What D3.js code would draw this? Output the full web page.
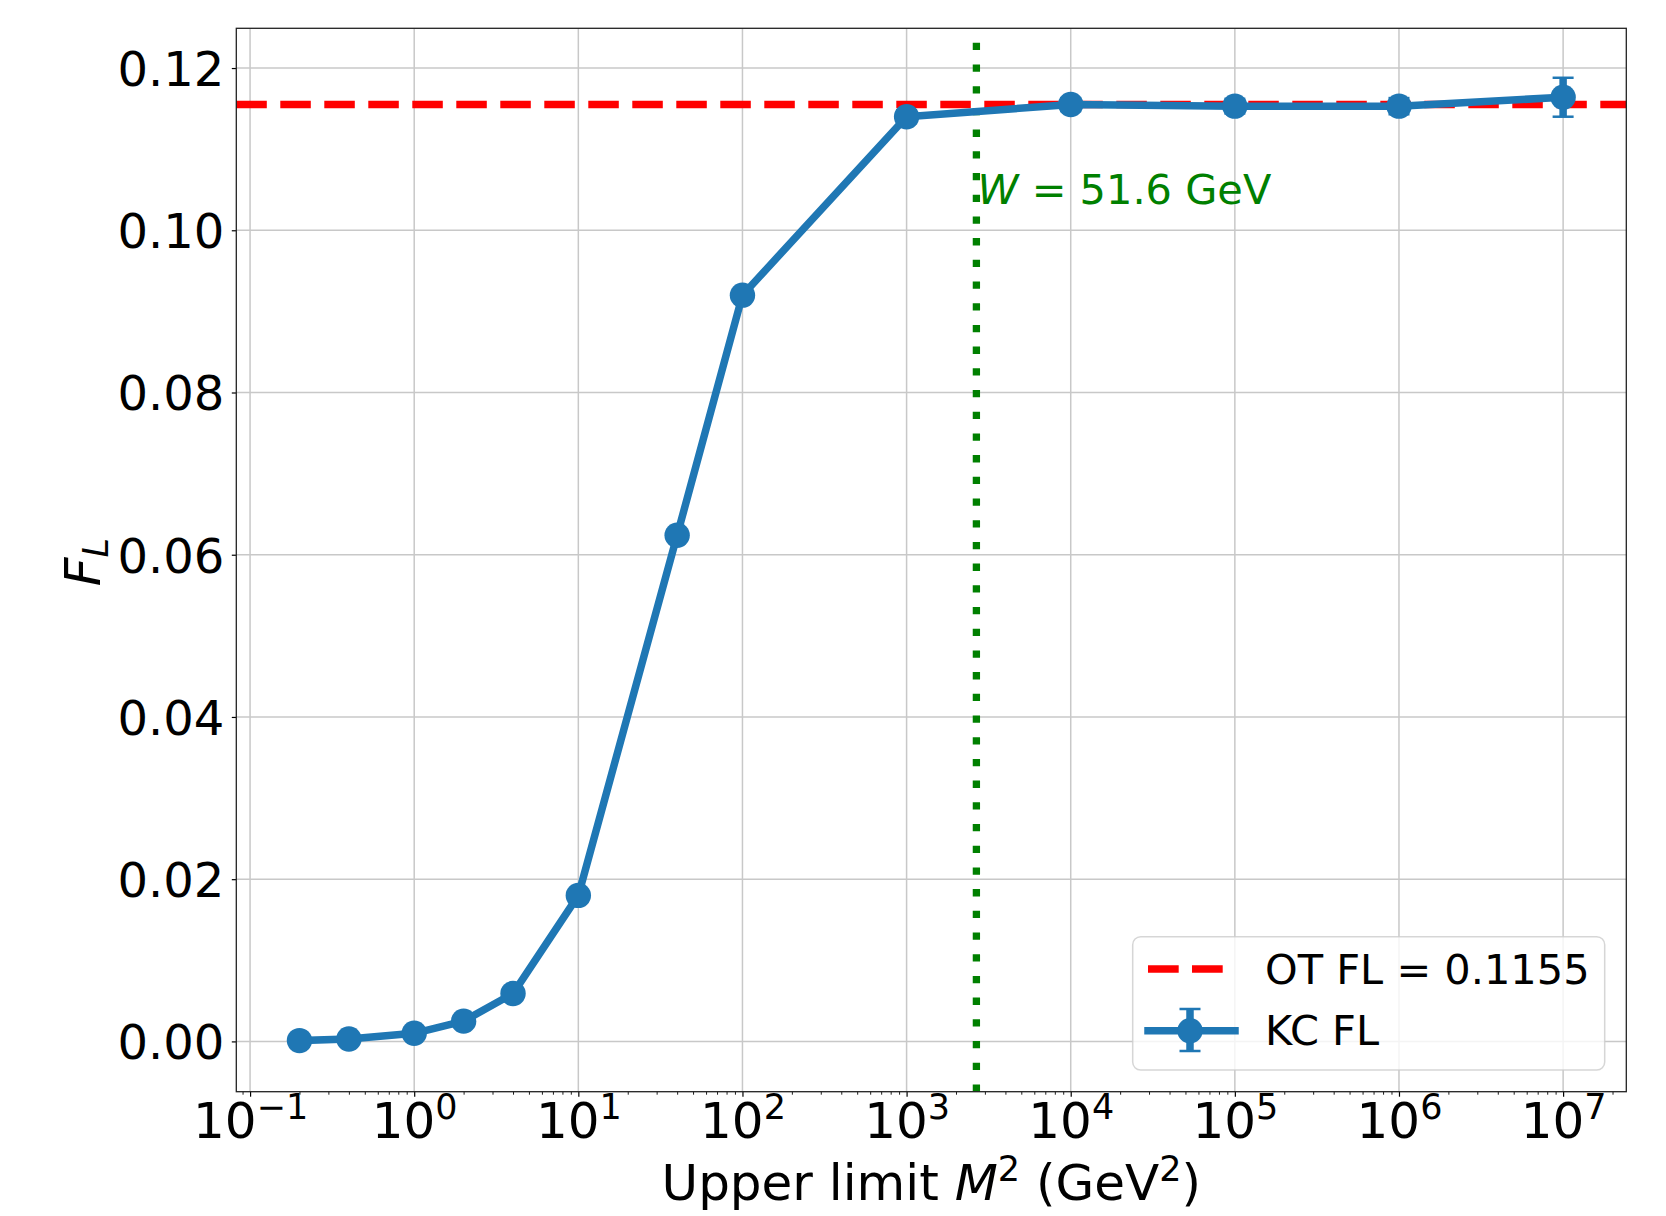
<!DOCTYPE html>
<html>
<head>
<meta charset="utf-8">
<script src="https://cdn.jsdelivr.net/npm/d3@7"></script>
<style>
body { margin: 0; background: #fff; }
svg text { font-family: "DejaVu Sans", sans-serif; fill: #000; }
</style>
</head>
<body>
<div id="chart"></div>
<script>
// data
var m2Limits = [0.2, 0.4, 1, 2, 4, 10, 40, 100, 1e3, 1e4, 1e5, 1e6, 1e7];
var kcFL = [0.0001, 0.0003, 0.0010, 0.0025, 0.0059, 0.0180, 0.0624, 0.0920, 0.1140, 0.1155, 0.1153, 0.1153, 0.1164];
var kcErr = [0.0001, 0.0001, 0.0002, 0.0002, 0.0003, 0.0004, 0.0006, 0.0006, 0.0008, 0.0008, 0.0009, 0.0010, 0.0024];
var otFL = 0.1155;
var wMass = 51.6;
var yTicks = [0, 0.02, 0.04, 0.06, 0.08, 0.10, 0.12];
var xTickExps = [-1, 0, 1, 2, 3, 4, 5, 6, 7];

var width = 1666,
    height = 1216;
var margin = {top: 28.3, right: 39.7, bottom: 124.3, left: 236.3};
var plotRight = width - margin.right,
    plotBottom = height - margin.bottom;

var blue = "#1f77b4";

var svg = d3.select("#chart").append("svg")
  .attr("width", width)
  .attr("height", height);

//scales
var x = d3.scaleLog()
  .domain([Math.pow(10, -1.0839), Math.pow(10, 7.3850)])
  .range([margin.left, plotRight]);
var y = d3.scaleLinear()
  .domain([-0.0062, 0.1249])
  .range([plotBottom, margin.top]);

var xMajor = xTickExps.map(function(e) { return Math.pow(10, e); });
var xMinor = [];
for (var e = -2; e <= 7; e++) {
  for (var k = 2; k < 10; k++) {
    var v = k * Math.pow(10, e);
    if (v > x.domain()[0] && v < x.domain()[1]) xMinor.push(v);
  }
}

//grid
var grid = svg.append("g").attr("class", "grid")
  .attr("stroke", "#c8c8c8")
  .attr("stroke-width", 1.5);
grid.selectAll(".gx").data(xMajor).enter().append("line")
  .attr("x1", function(d) { return x(d); })
  .attr("x2", function(d) { return x(d); })
  .attr("y1", margin.top)
  .attr("y2", plotBottom);
grid.selectAll(".gy").data(yTicks).enter().append("line")
  .attr("x1", margin.left)
  .attr("x2", plotRight)
  .attr("y1", function(d) { return y(d); })
  .attr("y2", function(d) { return y(d); });

//OT reference line
svg.append("line")
  .attr("x1", margin.left)
  .attr("x2", plotRight)
  .attr("y1", y(otFL))
  .attr("y2", y(otFL))
  .attr("stroke", "#ff0000")
  .attr("stroke-width", 7.5)
  .attr("stroke-dasharray", "30.5,13.5");

//W mass line, drawn bottom to top like matplotlib
var wx = x(wMass * wMass);
svg.append("line")
  .attr("x1", wx)
  .attr("x2", wx)
  .attr("y1", plotBottom)
  .attr("y2", margin.top)
  .attr("stroke", "#008000")
  .attr("stroke-width", 7.3)
  .attr("stroke-dasharray", "7.3,14.4");

var pts = m2Limits.map(function(m, i) {
  return {m2: m, fl: kcFL[i], err: kcErr[i]};
});

//error bars
var eb = svg.append("g").attr("stroke", blue);
eb.selectAll(".ebar").data(pts).enter().append("line")
  .attr("x1", function(d) { return x(d.m2); })
  .attr("x2", function(d) { return x(d.m2); })
  .attr("y1", function(d) { return y(d.fl - d.err); })
  .attr("y2", function(d) { return y(d.fl + d.err); })
  .attr("stroke-width", 7.5);
[-1, 1].forEach(function(s) {
  eb.selectAll(".cap" + s).data(pts).enter().append("line")
    .attr("x1", function(d) { return x(d.m2) - 10.5; })
    .attr("x2", function(d) { return x(d.m2) + 10.5; })
    .attr("y1", function(d) { return y(d.fl + s * d.err); })
    .attr("y2", function(d) { return y(d.fl + s * d.err); })
    .attr("stroke-width", 2.5);
});

//KC line + markers
var line = d3.line()
  .x(function(d) { return x(d.m2); })
  .y(function(d) { return y(d.fl); });
svg.append("path")
  .datum(pts)
  .attr("d", line)
  .attr("fill", "none")
  .attr("stroke", blue)
  .attr("stroke-width", 7.5)
  .attr("stroke-linejoin", "round")
  .attr("stroke-linecap", "square");
svg.selectAll(".pt").data(pts).enter().append("circle")
  .attr("cx", function(d) { return x(d.m2); })
  .attr("cy", function(d) { return y(d.fl); })
  .attr("r", 12.7)
  .attr("fill", blue);

//annotation
var ann = svg.append("text")
  .attr("x", wx + 1)
  .attr("y", y(0.1033))
  .attr("font-size", 41.5)
  .style("fill", "#008000");
ann.append("tspan").attr("font-style", "italic").text("W");
ann.append("tspan").text(" = 51.6 GeV");

//axes
var xAxis = svg.append("g")
  .attr("transform", "translate(0," + plotBottom + ")")
  .call(d3.axisBottom(x).tickValues(xMajor).tickSize(5).tickFormat(""));
svg.append("g")
  .attr("transform", "translate(0," + plotBottom + ")")
  .call(d3.axisBottom(x).tickValues(xMinor).tickSize(3).tickFormat(""))
  .selectAll("line").attr("stroke-width", 0.9);
xAxis.selectAll(".tick line").attr("stroke-width", 1.2);
xAxis.selectAll(".tick").each(function(d, i) {
  var t = d3.select(this).append("text")
    .attr("y", 46.6)
    .attr("text-anchor", "middle")
    .attr("font-size", 50)
    .style("fill", "#000");
  t.append("tspan").text("10");
  t.append("tspan")
    .attr("font-size", 35)
    .attr("dy", -19)
    .text(String(xTickExps[i]).replace("-", "\u2212"));
});

var yAxis = svg.append("g")
  .attr("transform", "translate(" + margin.left + ",0)")
  .call(d3.axisLeft(y).tickValues(yTicks).tickSize(4.5).tickPadding(7.5).tickFormat(d3.format(".2f")));
yAxis.selectAll(".tick line").attr("stroke-width", 1.2);
yAxis.selectAll(".tick text")
  .attr("font-size", 48)
  .attr("font-family", "DejaVu Sans")
  .attr("dy", "0.36em");

svg.selectAll(".domain").remove();

//spines
svg.append("rect")
  .attr("x", margin.left)
  .attr("y", margin.top)
  .attr("width", plotRight - margin.left)
  .attr("height", plotBottom - margin.top)
  .attr("fill", "none")
  .attr("stroke", "#222")
  .attr("stroke-width", 1.3);

//axis titles
var xt = svg.append("text")
  .attr("x", (margin.left + plotRight) / 2)
  .attr("y", 1200)
  .attr("text-anchor", "middle")
  .attr("font-size", 50);
xt.append("tspan").text("Upper limit ");
xt.append("tspan").attr("font-style", "italic").text("M");
xt.append("tspan").attr("font-size", 35).attr("dy", -19).text("2");
xt.append("tspan").attr("dy", 19).text(" (GeV");
xt.append("tspan").attr("font-size", 35).attr("dy", -19).text("2");
xt.append("tspan").attr("dy", 19).text(")");

var yt = svg.append("text")
  .attr("transform", "translate(100," + ((margin.top + plotBottom) / 2 + 2) + ") rotate(-90)")
  .attr("text-anchor", "middle")
  .attr("font-size", 50)
  .attr("font-style", "italic");
yt.append("tspan").text("F");
yt.append("tspan").attr("font-size", 35).attr("dy", 8).text("L");

//legend
var lg = svg.append("g").attr("class", "legend");
lg.append("rect")
  .attr("x", 1132.7)
  .attr("y", 936.7)
  .attr("width", 472)
  .attr("height", 133.3)
  .attr("rx", 8)
  .attr("fill", "#fff")
  .attr("fill-opacity", 0.8)
  .attr("stroke", "#cccccc")
  .attr("stroke-opacity", 0.8)
  .attr("stroke-width", 1.5);
var hx0 = 1148, hx1 = 1235, hxm = 1190;
lg.append("line")
  .attr("x1", hx0).attr("x2", hx1)
  .attr("y1", 969).attr("y2", 969)
  .attr("stroke", "#ff0000")
  .attr("stroke-width", 7.5)
  .attr("stroke-dasharray", "30.7,13.3");
lg.append("line")
  .attr("x1", hxm).attr("x2", hxm)
  .attr("y1", 1009).attr("y2", 1051)
  .attr("stroke", blue)
  .attr("stroke-width", 7.5);
[1009, 1051].forEach(function(cy) {
  lg.append("line")
    .attr("x1", hxm - 10.5).attr("x2", hxm + 10.5)
    .attr("y1", cy).attr("y2", cy)
    .attr("stroke", blue)
    .attr("stroke-width", 2.5);
});
lg.append("line")
  .attr("x1", hx0).attr("x2", hx1)
  .attr("y1", 1030.7).attr("y2", 1030.7)
  .attr("stroke", blue)
  .attr("stroke-width", 7.5)
  .attr("stroke-linecap", "square");
lg.append("circle")
  .attr("cx", hxm).attr("cy", 1030.7)
  .attr("r", 12.7)
  .attr("fill", blue);
lg.append("text")
  .attr("x", 1265)
  .attr("y", 984.3)
  .attr("font-size", 41.5)
  .text("OT FL = " + otFL);
lg.append("text")
  .attr("x", 1265)
  .attr("y", 1045)
  .attr("font-size", 41.5)
  .text("KC FL");
</script>
</body>
</html>
